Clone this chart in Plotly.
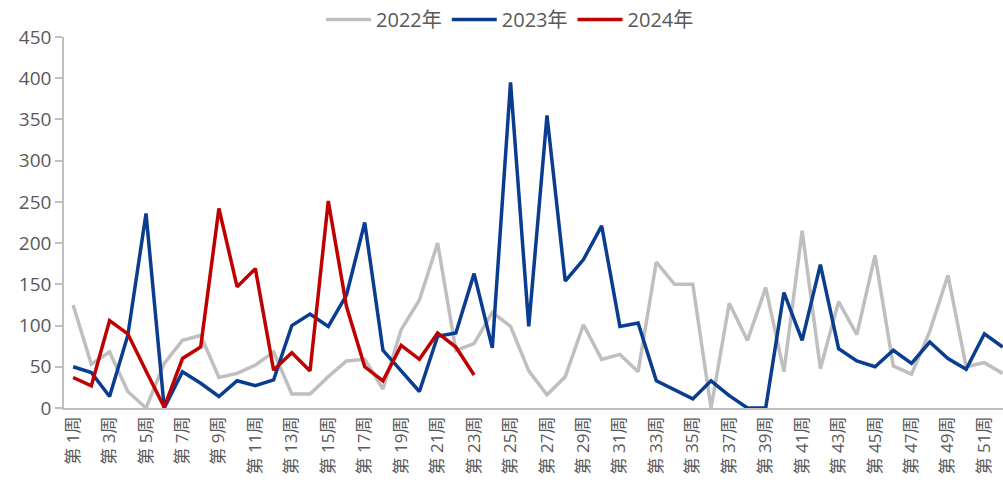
import plotly.graph_objects as go

# Week labels 第1周 … 第52周
weeks = [f"第 {i}周" for i in range(1, 53)]
tick_weeks = weeks[::2]

series_names = ["2022年", "2023年", "2024年"]
series_colors = ["#BFBFBF", "#0A3D8F", "#C00000"]

v2022 = [125, 53, 68, 20, 0, 54, 82, 88, 37, 42, 52, 68, 17, 17, 38, 57, 59, 23,
         95, 131, 200, 70, 78, 116, 99, 45, 16, 38, 101, 59, 65, 44, 177, 150, 150,
         0, 127, 82, 146, 44, 215, 48, 129, 89, 185, 51, 41, 93, 161, 50, 55, 42]

v2023 = [50, 43, 14, 88, 236, 0, 44, 30, 14, 33, 27, 34, 100, 114, 99, 137, 225,
         70, 45, 20, 87, 91, 163, 73, 395, 99, 355, 154, 180, 221, 99, 103, 33, 22,
         11, 33, 15, 0, 0, 140, 82, 174, 72, 57, 50, 70, 54, 80, 60, 47, 90, 74]

v2024 = [37, 27, 106, 90, 45, 1, 60, 74, 242, 147, 169, 46, 67, 45, 251, 123, 50,
         33, 76, 59, 91, 74, 40]

text_color = "#595959"
axis_color = "#BFBFBF"

fig = go.Figure()
for name, color, vals in zip(series_names, series_colors, [v2022, v2023, v2024]):
    fig.add_trace(go.Scatter(
        x=weeks[:len(vals)], y=vals, name=name, mode="lines",
        line=dict(color=color, width=3.5),
    ))

fig.update_layout(
    width=1003, height=493,
    margin=dict(l=64, r=0, t=37, b=85),
    paper_bgcolor="white", plot_bgcolor="white",
    font=dict(family="Open Sans, Noto Sans CJK SC, sans-serif", color=text_color, size=19),
    showlegend=True,
    legend=dict(orientation="h", x=0.475, xanchor="center", y=1.1, yanchor="top",
                font=dict(size=20, color=text_color), bgcolor="rgba(0,0,0,0)",
                itemwidth=45),
)
fig.update_xaxes(
    type="category", categoryorder="array", categoryarray=weeks,
    range=[-0.5, 51.02],
    tickmode="array", tickvals=tick_weeks, ticktext=tick_weeks,
    tickangle=-90, tickfont=dict(size=17, color=text_color),
    showline=True, linecolor=axis_color, linewidth=1.5,
    showgrid=False, zeroline=False, ticks="",
)
fig.update_yaxes(
    range=[0, 450], dtick=50, tick0=0,
    showline=True, linecolor=axis_color, linewidth=1.5,
    ticks="outside", ticklen=7, tickcolor=axis_color, tickwidth=1.5,
    showgrid=False, zeroline=False,
    tickfont=dict(size=19, color=text_color),
)

fig.write_html("out.html")
